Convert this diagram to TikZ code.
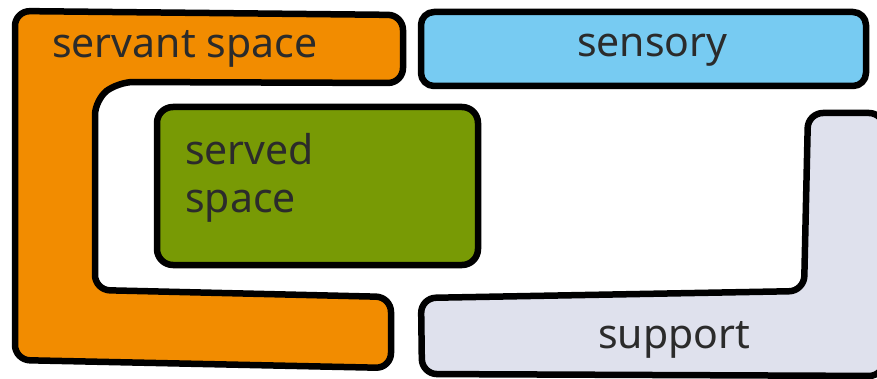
\documentclass[tikz,border=0pt]{standalone}
\usepackage{fontspec}
\setmainfont{Noto Sans}
\definecolor{servant}{HTML}{F28C00}
\definecolor{sensorycol}{HTML}{77CBF2}
\definecolor{servedcol}{HTML}{789A05}
\definecolor{supportcol}{HTML}{DFE1ED}
\definecolor{ink}{HTML}{2B2B2B}
\tikzset{
  zone/.style={draw=black, line width=6.5pt, line join=round, rounded corners=15pt},
  lbl/.style={text=ink, font=\fontsize{41}{48}\selectfont, inner sep=0pt, anchor=base west}
}
\begin{document}
\begin{tikzpicture}[x=1pt,y=-1pt]
\useasboundingbox (0,0) rectangle (877,379);
% servant space (C shape)
\draw[zone, fill=servant] (15,11) -- (403,15) -- (403,83) -- (118,82) -- (95,100) -- (95,290) -- (391,297) -- (391,368) -- (15,360) -- cycle;
% sensory
\draw[zone, fill=sensorycol, rounded corners=13pt] (421,12) rectangle (866,86);
% served space
\draw[zone, fill=servedcol, rounded corners=16pt] (157,107) rectangle (478,265);
% support (L shape)
\draw[zone, fill=supportcol] (808,113) -- (884,113) -- (884,376) -- (422,374) -- (421,298) -- (804,291) -- cycle;
% labels
\node[lbl] (tservant) at (52,58) {servant space};
\node[lbl] (tsensory) at (577,57) {sensory};
\node[lbl] (tserved) at (185,165) {served};
\node[lbl] (tspace) at (185,213) {space};
\node[lbl] (tsupport) at (598,348) {support};
\end{tikzpicture}
\end{document}
